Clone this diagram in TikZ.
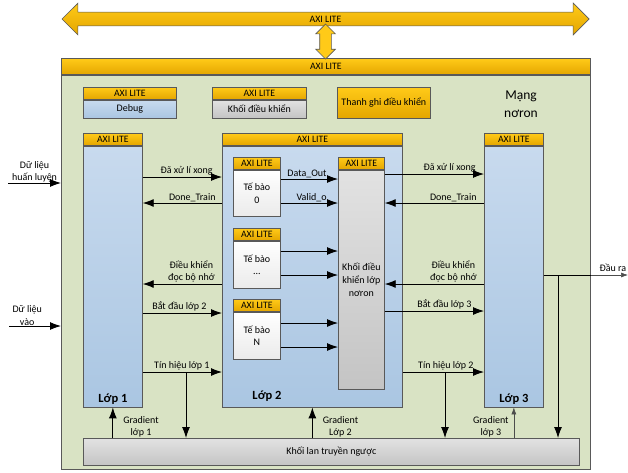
\documentclass[tikz,border=0pt]{standalone}
\usepackage{fontspec}
\setmainfont{Carlito}
\usetikzlibrary{positioning,arrows.meta,shapes.arrows}
\definecolor{axigold}{RGB}{255,202,24}
\definecolor{axigolddark}{RGB}{228,166,0}
\definecolor{netgreen}{RGB}{217,227,196}
\definecolor{layertop}{RGB}{200,218,238}
\definecolor{layerbot}{RGB}{170,198,226}
\definecolor{graytop}{RGB}{226,226,226}
\definecolor{graybot}{RGB}{196,196,196}
\definecolor{edgegray}{RGB}{89,89,89}
\tikzset{
  blk/.style={draw=edgegray, line width=0.7pt, inner sep=0pt, anchor=north west},
  axi/.style={blk, top color=axigold, bottom color=axigolddark,
    minimum height=12pt, font=\fontsize{9.8}{11}\selectfont},
  layer/.style={blk, top color=layertop, bottom color=layerbot,
    font=\fontsize{10}{12.5}\selectfont},
  ctrl/.style={blk, top color=graytop, bottom color=graybot,
    align=center, font=\fontsize{10}{13}\selectfont},
  cell/.style={blk, top color=white, bottom color=black!8,
    align=center, font=\fontsize{10}{12.5}\selectfont},
  lbl/.style={font=\fontsize{10}{12.5}\selectfont, inner sep=1pt, align=center},
  title/.style={font=\bfseries\fontsize{12.5}{14}\selectfont, inner sep=1pt},
  sig/.style={line width=0.9pt},
  thinsig/.style={draw=black!70, line width=0.6pt, -{Latex[length=7pt,width=5pt]}}
}
\begin{document}
\begin{tikzpicture}[x=1pt, y=-1pt, >={Latex[length=11pt,width=8pt]}]
\useasboundingbox (0,0) rectangle (628,472);

\node[blk, fill=netgreen, minimum width=529pt, minimum height=394pt] (net) at (61,75) {};
\node[axi, minimum width=529pt, minimum height=16pt, above=0pt of net] (net-h) {AXI LITE};
\node[font=\fontsize{13.5}{18}\selectfont, align=center] (net-t) at (521,104) {Mạng\\nơron};

\node[double arrow, draw=edgegray, line width=0.7pt, top color=axigold, bottom color=axigolddark,
  double arrow head extend=9pt, minimum height=527pt, inner xsep=0pt, inner ysep=3.4pt,
  font=\fontsize{9.8}{11}\selectfont] (bus) at (325.5,19) {AXI LITE};
\node[double arrow, draw=edgegray, line width=0.7pt, fill=axigold, rotate=90,
  double arrow head extend=4pt, minimum height=35pt, inner sep=5.5pt] (bus-v) at (325.5,41.5) {};

\node[axi, minimum width=93pt] (dbg-h) at (83,87) {AXI LITE};
\node[layer, minimum width=93pt, minimum height=18pt, below=0pt of dbg-h] (dbg) {Debug};
\node[axi, minimum width=94pt] (ctl-h) at (212,87) {AXI LITE};
\node[ctrl, minimum width=94pt, minimum height=18pt, below=0pt of ctl-h] (ctl) {Khối điều khiển};
\node[axi, minimum width=93pt, minimum height=31pt, font=\fontsize{10}{12}\selectfont] (reg) at (337,87) {Thanh ghi điều khiển};

\node[axi, minimum width=59pt] (lop1-h) at (83,133) {AXI LITE};
\node[layer, minimum width=59pt, minimum height=261pt, below=0pt of lop1-h] (lop1) {};
\node[axi, minimum width=180pt] (lop2-h) at (222,133) {AXI LITE};
\node[layer, minimum width=180pt, minimum height=261pt, below=0pt of lop2-h] (lop2) {};
\node[axi, minimum width=59pt] (lop3-h) at (484,133) {AXI LITE};
\node[layer, minimum width=59pt, minimum height=261pt, below=0pt of lop3-h] (lop3) {};

\node[title, above=2pt of lop1.south] (lop1-t) {Lớp 1};
\node[title] (lop2-t) at (267,396) {Lớp 2};
\node[title, above=2pt of lop3.south] (lop3-t) {Lớp 3};

\node[axi, minimum width=47pt] (cell0-h) at (233,157) {AXI LITE};
\node[cell, minimum width=47pt, minimum height=46pt, below=0pt of cell0-h] (cell0) {Tế bào\\0};
\node[axi, minimum width=47pt] (cell1-h) at (233,228) {AXI LITE};
\node[cell, minimum width=47pt, minimum height=47pt, below=0pt of cell1-h] (cell1) {Tế bào\\...};
\node[axi, minimum width=47pt] (celln-h) at (233,299) {AXI LITE};
\node[cell, minimum width=47pt, minimum height=47pt, below=0pt of celln-h] (celln) {Tế bào\\N};

\node[axi, minimum width=46pt] (kdk-h) at (338,157) {AXI LITE};
\node[ctrl, minimum width=46pt, minimum height=219pt, below=0pt of kdk-h] (kdk) {Khối điều\\khiển lớp\\nơron};

\node[ctrl, minimum width=496pt, minimum height=27pt] (bp) at (83,438) {Khối lan truyền ngược};

\coordinate (in-train) at (8,183);
\coordinate (in-data) at (9,326);
\coordinate (out) at (628,275);
\coordinate (tap1) at (186,372);
\coordinate (tap2) at (445,372);
\coordinate (tap3) at (558,275);

\draw[sig,->] (in-train) -- node[lbl, above, inner sep=0pt] {Dữ liệu\\huấn luyện} (net.west |- in-train);
\draw[sig,->] (in-data) -- node[lbl, above, pos=0.35, inner sep=0pt] {Dữ liệu\\vào} (net.west |- in-data);

\draw[sig,->] (lop1.east |- 0,177) -- node[lbl, above left, pos=1, xshift=-8pt] {Đã xử lí xong} (lop2.west |- 0,177);
\draw[sig,<-] (lop1.east |- 0,203) -- node[lbl, above left, pos=1, xshift=-5pt] {Done\_Train} (lop2.west |- 0,203);
\draw[sig,<-] (lop1.east |- 0,284) -- node[lbl, above left, pos=1, xshift=-6pt] {Điều khiển\\đọc bộ nhớ} (lop2.west |- 0,284);
\draw[sig,->] (lop1.east |- 0,313) -- node[lbl, above left, pos=1, xshift=-14pt] {Bắt đầu lớp 2} (lop2.west |- 0,313);
\draw[sig,->] (lop1.east |- 0,372) -- node[lbl, above left, pos=1, xshift=-11pt] {Tín hiệu lớp 1} (lop2.west |- 0,372);
\draw[sig,->] (tap1) -- (bp.north -| tap1);

\draw[sig,->] (cell0.east |- 0,179) -- node[lbl, above left, pos=1, xshift=-10pt] {Data\_Out} (kdk.west |- 0,179);
\draw[sig,->] (cell0.east |- 0,203) -- node[lbl, above left, pos=1, xshift=-10pt] {Valid\_o} (kdk.west |- 0,203);
\foreach \c/\ya/\yb in {cell1/251/275, celln/323/347}{
  \draw[sig,->] (\c.east |- 0,\ya) -- (kdk.west |- 0,\ya);
  \draw[sig,->] (\c.east |- 0,\yb) -- (kdk.west |- 0,\yb);
}

\draw[sig,->] (kdk.east |- 0,174) -- node[lbl, above left, pos=1, xshift=-7pt] {Đã xử lí xong} (lop3.west |- 0,174);
\draw[sig,<-] (kdk.east |- 0,203) -- node[lbl, above left, pos=1, xshift=-6pt] {Done\_Train} (lop3.west |- 0,203);
\draw[sig,<-] (kdk.east |- 0,284) -- node[lbl, above left, pos=1, xshift=-6pt] {Điều khiển\\đọc bộ nhớ} (lop3.west |- 0,284);
\draw[sig,->] (kdk.east |- 0,311) -- node[lbl, above left, pos=1, xshift=-11pt] {Bắt đầu lớp 3} (lop3.west |- 0,311);
\draw[sig,->] (lop2.east |- 0,372) -- node[lbl, above left, pos=1, xshift=-9pt] {Tín hiệu lớp 2} (lop3.west |- 0,372);
\draw[sig,->] (tap2) -- (bp.north -| tap2);

\draw[sig] (lop3.east |- out) -- (net.east |- out);
\draw[thinsig] (net.east |- out) -- node[lbl, anchor=south east, pos=1, xshift=-0.5pt, yshift=2pt] {Đầu ra} (out);
\draw[sig,->] (tap3) -- (bp.north -| tap3);

\draw[sig,->] (lop1.south |- bp.north) -- node[lbl, right, xshift=9pt, yshift=-4pt] {Gradient\\lớp 1} (lop1.south);
\draw[sig,->] (lop2.south |- bp.north) -- node[lbl, right, xshift=9pt, yshift=-4pt] {Gradient\\Lớp 2} (lop2.south);
\draw[thinsig] (lop3.south |- bp.north) -- node[lbl, left, xshift=-4pt, yshift=-4pt] {Gradient\\lớp 3} (lop3.south);
\end{tikzpicture}
\end{document}
